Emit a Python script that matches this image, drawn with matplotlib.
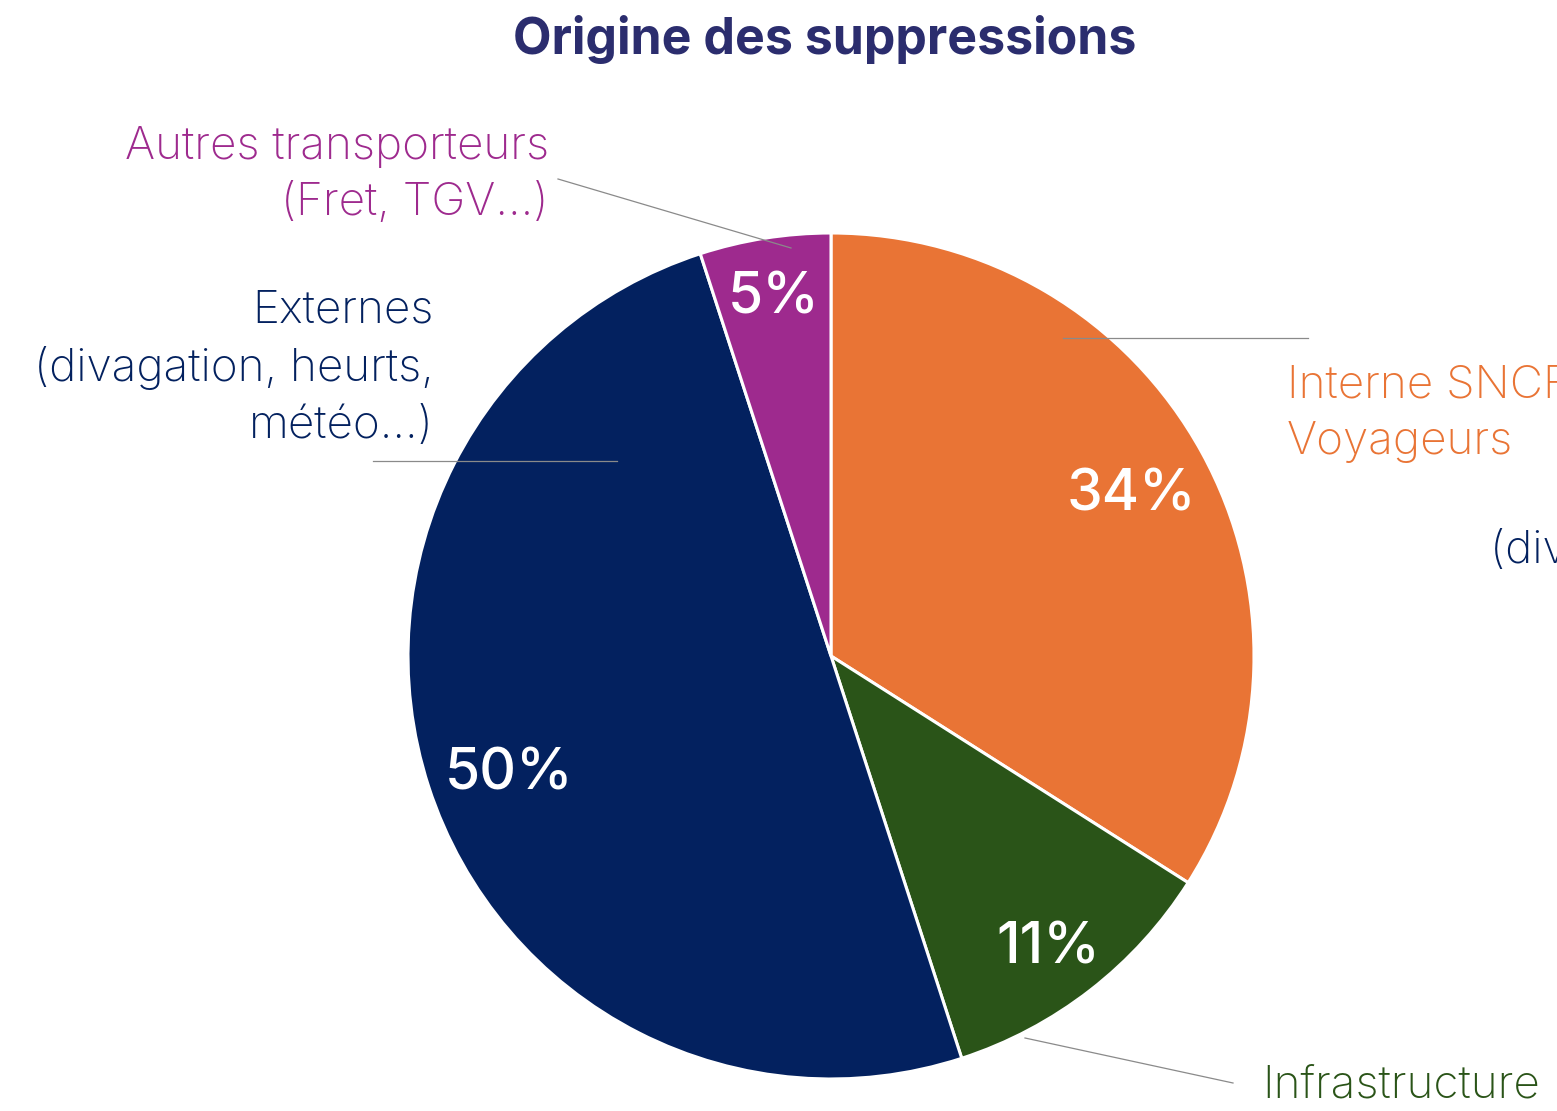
#!/usr/bin/env python3
# -*- coding: utf-8 -*-

from matplotlib import pyplot as plt
import numpy as np

## Data section
title    = 'Origine des suppressions'
segments = ['Interne SNCF Voyageurs', 'Infrastructure', 'Externes', 'Autres transporteurs']
shares   = [34, 11, 50, 5]
colors   = ['#E97435', '#2A5418', '#03215F', '#9E2A8E']

## Config section
plt.rcParams['font.family'] = ['Inter', 'DejaVu Sans']
W, H = 1557, 1111
cx, cy, radius = 831, H - 656, 423
label_size = 33
label_space = 1.44
line_color = '#8a8a8a'
# radial position of each percentage (fraction of radius) and a small pixel drop
pct_dist = [0.81, 0.84, 0.80, 0.865]
pct_drop = [5, 12, 14, 4]

## Plot section
fig = plt.figure(figsize=(W / 100, H / 100), dpi=100)
ax = fig.add_axes([0, 0, 1, 1])

wedges, _, autotexts = ax.pie(shares, colors=colors, startangle=90, counterclock=False,
                              center=(cx, cy), radius=radius,
                              autopct='%d%%', pctdistance=0.82,
                              wedgeprops=dict(edgecolor='white', linewidth=2.2),
                              textprops=dict(color='white', fontsize=41, fontweight='medium'))
for w, t, d, dy in zip(wedges, autotexts, pct_dist, pct_drop):
    ang = np.deg2rad((w.theta1 + w.theta2) / 2)
    t.set_position((cx + d * radius * np.cos(ang), cy + d * radius * np.sin(ang) - dy))

ax.set_xlim(0, W)
ax.set_ylim(0, H)
ax.set_aspect('equal')
ax.axis('off')

# Title
fig.text(825 / W, 1 - 40 / H, title, ha='center', va='center',
         fontsize=36, fontweight='bold', color='#2B2D6E')

# Leader lines (pixel coords, y from top)
def leader(x0, y0, x1, y1):
    ax.plot([x0, x1], [H - y0, H - y1], color=line_color, linewidth=0.9)

leader(558, 179, 791, 248)
leader(373, 461, 617, 461)
leader(1063, 338, 1308, 338)
leader(1025, 1038, 1233, 1083)

# Category labels
ax.text(549, H - 175, 'Autres transporteurs\n(Fret, TGV...)', ha='right', va='center',
        fontsize=label_size, color=colors[3], fontweight='light', linespacing=label_space)
ax.text(434, H - 368, 'Externes\n(divagation, heurts,\nmétéo...)', ha='right', va='center',
        fontsize=label_size, color=colors[2], fontweight='light', linespacing=label_space)
ax.text(1287, H - 414, 'Interne SNCF\nVoyageurs', ha='left', va='center',
        fontsize=label_size, color=colors[0], fontweight='light', linespacing=label_space)
ax.text(1490, H - 550, '(divagation, heurts,', ha='left', va='center',
        fontsize=label_size, color=colors[2], fontweight='light')
ax.text(1262, H - 1085, 'Infrastructure', ha='left', va='center',
        fontsize=label_size, color=colors[1], fontweight='light')

plt.savefig('out.png', dpi=100)
plt.close()
